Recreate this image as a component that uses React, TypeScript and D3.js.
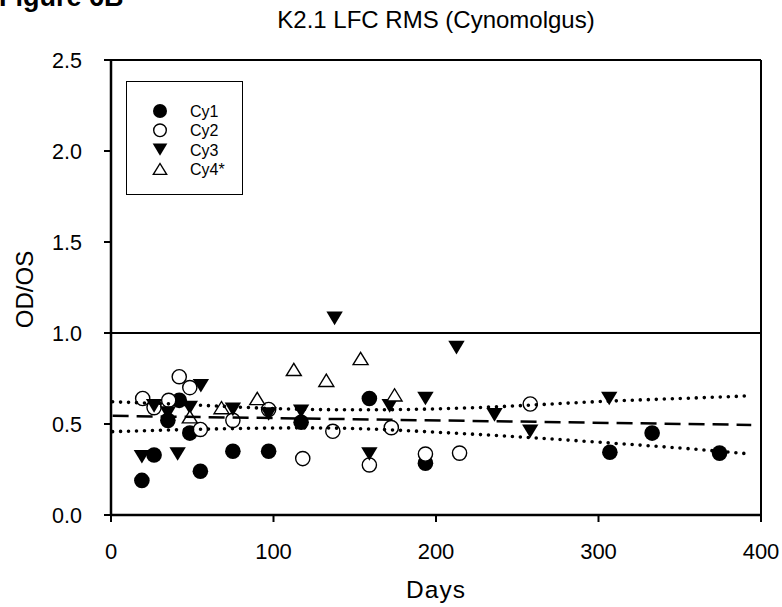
import React from "react";
import * as d3 from "d3";

// ---- data ----
const cy1Days = [19, 26.5, 35, 42, 48.5, 55, 75, 97, 117, 159, 193.5, 307, 333, 374.5];
const cy1Vals = [0.19, 0.33, 0.52, 0.63, 0.45, 0.24, 0.35, 0.35, 0.51, 0.64, 0.285, 0.345, 0.45, 0.34];

const cy2Days = [19.5, 26.5, 35.5, 42, 48.5, 55, 75, 97, 118, 136.5, 159, 172.5, 193.5, 214.5, 258];
const cy2Vals = [0.64, 0.59, 0.63, 0.76, 0.7, 0.47, 0.52, 0.58, 0.31, 0.46, 0.275, 0.48, 0.335, 0.34, 0.61];

const cy3Days = [19, 26.5, 35, 41, 48.5, 55.3, 75, 97, 117, 137.6, 159, 171.5, 193.5, 212.6, 236, 258, 306.6];
const cy3Vals = [0.32, 0.6, 0.56, 0.335, 0.59, 0.71, 0.58, 0.555, 0.57, 1.08, 0.335, 0.6, 0.64, 0.92, 0.55, 0.46, 0.64];

const cy4Days = [48.5, 68, 90, 112.5, 132.5, 153.6, 174.5];
const cy4Vals = [0.54, 0.59, 0.64, 0.8, 0.74, 0.86, 0.66];

const fitDays = [1, 394];
const fitVals = [0.545, 0.495];

const bandDays = [1, 50, 100, 150, 200, 250, 300, 350, 394];
const upperVals = [0.622, 0.605, 0.585, 0.578, 0.583, 0.6, 0.623, 0.64, 0.655];
const lowerVals = [0.458, 0.47, 0.478, 0.475, 0.455, 0.43, 0.4, 0.368, 0.335];

const xTicks = [0, 100, 200, 300, 400];
const yTicks = [0, 0.5, 1.0, 1.5, 2.0, 2.5];
const legendLabels = ["Cy1", "Cy2", "Cy3", "Cy4*"];

const FONT = "'Liberation Sans', Arial, sans-serif";

function Marker({ kind, cx, cy, size = 7.8 }: { kind: number; cx: number; cy: number; size?: number }) {
  if (kind === 0) return <circle cx={cx} cy={cy} r={size} fill="black" />;
  if (kind === 1) return <circle cx={cx} cy={cy} r={size - 0.7} fill="white" stroke="black" strokeWidth={1.4} />;
  const h = size * 1.75;
  const w = size * 2.1;
  if (kind === 2) {
    const p = `M${cx - w / 2},${cy - h / 2}L${cx + w / 2},${cy - h / 2}L${cx},${cy + h / 2}Z`;
    return <path d={p} fill="black" />;
  }
  const p = `M${cx - w / 2 + 0.7},${cy + h / 2 - 0.7}L${cx + w / 2 - 0.7},${cy + h / 2 - 0.7}L${cx},${cy - h / 2 + 0.7}Z`;
  return <path d={p} fill="white" stroke="black" strokeWidth={1.4} strokeLinejoin="miter" />;
}

export default function App() {
  const W = 782, H = 607;
  const x = d3.scaleLinear().domain([0, 400]).range([111, 761]);
  const y = d3.scaleLinear().domain([0, 2.5]).range([515, 60]);

  const series = [
    { days: cy1Days, vals: cy1Vals, kind: 0 },
    { days: cy2Days, vals: cy2Vals, kind: 1 },
    { days: cy3Days, vals: cy3Vals, kind: 2 },
    { days: cy4Days, vals: cy4Vals, kind: 3 },
  ];

  const straight = d3.line<number>().x((_, i) => x(fitDays[i])).y((v) => y(v));
  const band = d3
    .line<number>()
    .x((_, i) => x(bandDays[i]))
    .y((v) => y(v))
    .curve(d3.curveNatural);

  const x0 = x(0), x1 = x(400), y0 = y(0), y1 = y(2.5);

  return (
    <svg width={W} height={H} style={{ position: "absolute", left: 0, top: 0, background: "white" }}>
      <rect x={0} y={0} width={W} height={H} fill="white" />
      <text x={-1} y={6} fontFamily={FONT} fontWeight="bold" fontSize={27} fill="black">
        Figure 6B
      </text>
      <text x={436} y={28} fontFamily={FONT} fontSize={24} textAnchor="middle" fill="black">
        K2.1 LFC RMS (Cynomolgus)
      </text>

      {/* frame */}
      <line x1={x0} x2={x1} y1={y1} y2={y1} stroke="black" strokeWidth={2} />
      <line x1={x1} x2={x1} y1={y1} y2={y0} stroke="black" strokeWidth={2} />
      <line x1={x0} x2={x1} y1={y0} y2={y0} stroke="black" strokeWidth={2.5} />
      <line x1={x0} x2={x0} y1={y1} y2={y0} stroke="black" strokeWidth={2.5} />

      {/* reference line at 1.0 */}
      <line x1={x0} x2={x1} y1={y(1)} y2={y(1)} stroke="black" strokeWidth={2} />

      {/* ticks */}
      {yTicks.map((t) => (
        <g key={"y" + t}>
          <line x1={x0 - 7} x2={x0} y1={y(t)} y2={y(t)} stroke="black" strokeWidth={2} />
          <text x={82} y={y(t) + 7.5} fontFamily={FONT} fontSize={21.5} textAnchor="end" fill="black">
            {t.toFixed(1)}
          </text>
        </g>
      ))}
      {xTicks.map((t) => (
        <g key={"x" + t}>
          <line x1={x(t)} x2={x(t)} y1={y0} y2={y0 + 7} stroke="black" strokeWidth={2} />
          <text x={x(t)} y={559} fontFamily={FONT} fontSize={22} textAnchor="middle" fill="black">
            {t}
          </text>
        </g>
      ))}

      <text x={436} y={598} fontFamily={FONT} fontSize={24.5} textAnchor="middle" fill="black" letterSpacing={1}>
        Days
      </text>
      <text
        transform={`translate(33,${(y0 + y1) / 2 + 2}) rotate(-90)`}
        fontFamily={FONT}
        fontSize={24}
        textAnchor="middle"
        fill="black"
      >
        OD/OS
      </text>

      {/* points */}
      {series.map((s, si) =>
        s.days.map((d, i) => <Marker key={si + "-" + i} kind={s.kind} cx={x(d)} cy={y(s.vals[i])} />)
      )}

      {/* fit and band */}
      <path d={straight(fitVals) || ""} fill="none" stroke="black" strokeWidth={2.5} strokeDasharray="16 8" />
      <path
        d={band(upperVals) || ""}
        fill="none"
        stroke="black"
        strokeWidth={3.6}
        strokeLinecap="round"
        strokeDasharray="0 8"
      />
      <path
        d={band(lowerVals) || ""}
        fill="none"
        stroke="black"
        strokeWidth={3.6}
        strokeLinecap="round"
        strokeDasharray="0 8"
      />

      {/* legend */}
      <rect x={126.5} y={81.5} width={116} height={113} fill="white" stroke="black" strokeWidth={1} />
      {legendLabels.map((lab, i) => {
        const ly = 111 + i * 19.3;
        return (
          <g key={lab}>
            <Marker kind={i} cx={160} cy={ly} size={7} />
            <text x={190} y={ly + 6} fontFamily={FONT} fontSize={16} fill="black">
              {lab}
            </text>
          </g>
        );
      })}
    </svg>
  );
}
